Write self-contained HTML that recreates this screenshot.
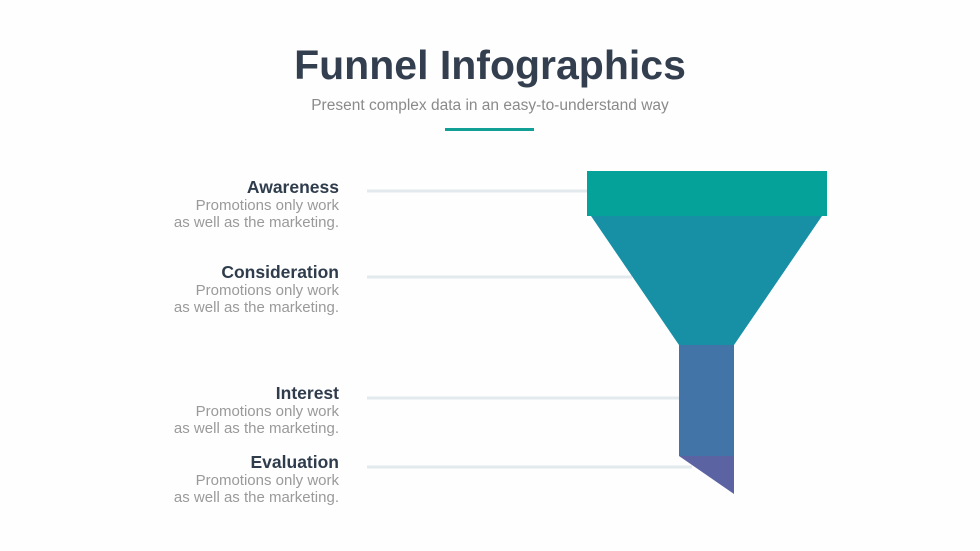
<!DOCTYPE html><html><head><style>
body{margin:0;width:980px;height:551px;background:#fefefe;position:relative;overflow:hidden;font-family:"Liberation Sans",sans-serif}
.t{position:absolute;right:641px;text-align:right;white-space:nowrap}
.h{font-weight:bold;font-size:17.5px;color:#2f3c4c;line-height:20px}
.b{font-size:15px;color:#9a9a9a;line-height:17px}
</style></head><body>
<div style="position:absolute;top:42px;width:980px;text-align:center;font-size:41px;font-weight:bold;color:#333f4f">Funnel Infographics</div>
<div style="position:absolute;top:97px;width:980px;text-align:center;font-size:15.5px;color:#8a8a8a">Present complex data in an easy-to-understand way</div>
<div style="position:absolute;left:445px;top:128px;width:89px;height:3px;background:#12a096"></div>
<svg width="980" height="551" style="position:absolute;left:0;top:0">
<g stroke="#e3eaee" stroke-width="3"><line x1="367" y1="191" x2="590" y2="191"/><line x1="367" y1="277" x2="632" y2="277"/><line x1="367" y1="398" x2="680" y2="398"/><line x1="367" y1="467" x2="692" y2="467"/></g>
<rect x="587" y="171" width="240" height="45" fill="#05a29a"/>
<polygon points="591,216 822,216 734,345 679,345" fill="#178fa4"/>
<rect x="679" y="345" width="55" height="111" fill="#4274a8"/>
<polygon points="679,456 734,456 734,494" fill="#5b63a3"/>
</svg>
<div class="t" style="top:177px"><div class="h">Awareness</div><div class="b">Promotions only work<br>as well as the marketing.</div></div>
<div class="t" style="top:262px"><div class="h">Consideration</div><div class="b">Promotions only work<br>as well as the marketing.</div></div>
<div class="t" style="top:383px"><div class="h">Interest</div><div class="b">Promotions only work<br>as well as the marketing.</div></div>
<div class="t" style="top:452px"><div class="h">Evaluation</div><div class="b">Promotions only work<br>as well as the marketing.</div></div>
</body></html>
